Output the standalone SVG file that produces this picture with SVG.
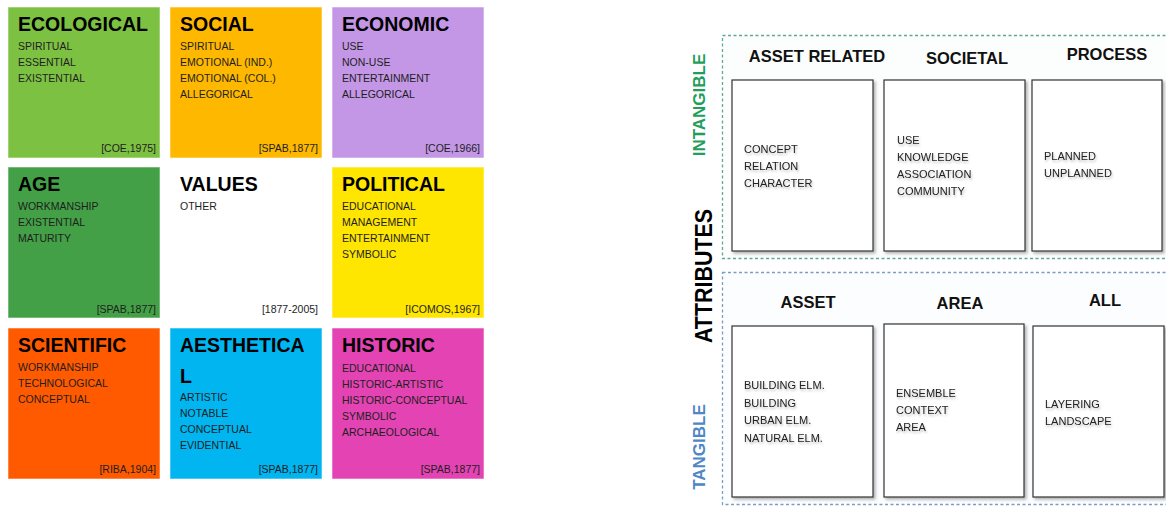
<svg xmlns="http://www.w3.org/2000/svg" width="1166" height="507" viewBox="0 0 1166 507">
  <defs>
    <filter id="boxShadow" x="-10%" y="-10%" width="130%" height="130%">
      <feDropShadow dx="2" dy="2" stdDeviation="1.6" flood-color="#000" flood-opacity="0.3"/>
    </filter>
    <filter id="textShadow" x="-10%" y="-30%" width="130%" height="190%">
      <feDropShadow dx="1" dy="2" stdDeviation="1.2" flood-color="#000" flood-opacity="0.25"/>
    </filter>
  </defs>
  <style>
    text { font-family: "Liberation Sans", Arial, sans-serif; }
    .tile { stroke: rgba(255,255,255,0.55); stroke-width: 1; }
    .ttl { font-size: 19.5px; font-weight: bold; fill: #000; }
    .itm { font-size: 10.5px; fill: #1e1e1e; }
    .ref { font-size: 10.5px; fill: #1e1e1e; text-anchor: end; }
    .zone-int { fill: #fcfefd; stroke: #5fa898; stroke-width: 1.3; stroke-dasharray: 3 2.5; }
    .zone-tan { fill: #fcfdfe; stroke: #7d9cc2; stroke-width: 1.3; stroke-dasharray: 3 2.5; }
    .box { fill: #fff; stroke: #333; stroke-width: 1.2; filter: url(#boxShadow); }
    .hdr { font-size: 16.5px; font-weight: bold; fill: #111; text-anchor: middle; }
    .cnt { font-size: 11px; fill: #222; filter: url(#textShadow); }
    .side { font-size: 17px; font-weight: bold; text-anchor: middle; }
  </style>

  <rect width="1166" height="507" fill="#fff"/>

  <!-- Value categories grid -->
  <g id="ecological" transform="translate(8,7)">
    <rect class="tile" width="152" height="151" fill="#7dc143"/>
    <text class="ttl" x="10" y="24">ECOLOGICAL</text>
    <text class="itm" x="10" y="43">SPIRITUAL</text>
    <text class="itm" x="10" y="59">ESSENTIAL</text>
    <text class="itm" x="10" y="75">EXISTENTIAL</text>
    <text class="ref" x="148" y="145">[COE,1975]</text>
  </g>
  <g id="social" transform="translate(170,7)">
    <rect class="tile" width="152" height="151" fill="#ffb800"/>
    <text class="ttl" x="10" y="24">SOCIAL</text>
    <text class="itm" x="10" y="43">SPIRITUAL</text>
    <text class="itm" x="10" y="59">EMOTIONAL (IND.)</text>
    <text class="itm" x="10" y="75">EMOTIONAL (COL.)</text>
    <text class="itm" x="10" y="91">ALLEGORICAL</text>
    <text class="ref" x="148" y="145">[SPAB,1877]</text>
  </g>
  <g id="economic" transform="translate(332,7)">
    <rect class="tile" width="152" height="151" fill="#c497e6"/>
    <text class="ttl" x="10" y="24">ECONOMIC</text>
    <text class="itm" x="10" y="43">USE</text>
    <text class="itm" x="10" y="59">NON-USE</text>
    <text class="itm" x="10" y="75">ENTERTAINMENT</text>
    <text class="itm" x="10" y="91">ALLEGORICAL</text>
    <text class="ref" x="148" y="145">[COE,1966]</text>
  </g>
  <g id="age" transform="translate(8,167)">
    <rect class="tile" width="152" height="151" fill="#43a047"/>
    <text class="ttl" x="10" y="24">AGE</text>
    <text class="itm" x="10" y="43">WORKMANSHIP</text>
    <text class="itm" x="10" y="59">EXISTENTIAL</text>
    <text class="itm" x="10" y="75">MATURITY</text>
    <text class="ref" x="148" y="146">[SPAB,1877]</text>
  </g>
  <g id="values" transform="translate(170,167)">
    <rect width="152" height="151" fill="#fff"/>
    <text class="ttl" x="10" y="24">VALUES</text>
    <text class="itm" x="10" y="43">OTHER</text>
    <text class="ref" x="148" y="146">[1877-2005]</text>
  </g>
  <g id="political" transform="translate(332,167)">
    <rect class="tile" width="152" height="151" fill="#ffe600"/>
    <text class="ttl" x="10" y="24">POLITICAL</text>
    <text class="itm" x="10" y="43">EDUCATIONAL</text>
    <text class="itm" x="10" y="59">MANAGEMENT</text>
    <text class="itm" x="10" y="75">ENTERTAINMENT</text>
    <text class="itm" x="10" y="91">SYMBOLIC</text>
    <text class="ref" x="148" y="146">[ICOMOS,1967]</text>
  </g>
  <g id="scientific" transform="translate(8,328)">
    <rect class="tile" width="152" height="151" fill="#ff5a00"/>
    <text class="ttl" x="10" y="24">SCIENTIFIC</text>
    <text class="itm" x="10" y="43">WORKMANSHIP</text>
    <text class="itm" x="10" y="59">TECHNOLOGICAL</text>
    <text class="itm" x="10" y="75">CONCEPTUAL</text>
    <text class="ref" x="148" y="145">[RIBA,1904]</text>
  </g>
  <g id="aesthetical" transform="translate(170,328)">
    <rect class="tile" width="152" height="151" fill="#00b5f0"/>
    <text class="ttl" x="10" y="24">AESTHETICA</text>
    <text class="ttl" x="10" y="55">L</text>
    <text class="itm" x="10" y="73">ARTISTIC</text>
    <text class="itm" x="10" y="89">NOTABLE</text>
    <text class="itm" x="10" y="105">CONCEPTUAL</text>
    <text class="itm" x="10" y="121">EVIDENTIAL</text>
    <text class="ref" x="148" y="145">[SPAB,1877]</text>
  </g>
  <g id="historic" transform="translate(332,328)">
    <rect class="tile" width="152" height="151" fill="#e444b3"/>
    <text class="ttl" x="10" y="24">HISTORIC</text>
    <text class="itm" x="10" y="44">EDUCATIONAL</text>
    <text class="itm" x="10" y="60">HISTORIC-ARTISTIC</text>
    <text class="itm" x="10" y="76">HISTORIC-CONCEPTUAL</text>
    <text class="itm" x="10" y="92">SYMBOLIC</text>
    <text class="itm" x="10" y="108">ARCHAEOLOGICAL</text>
    <text class="ref" x="148" y="145">[SPAB,1877]</text>
  </g>

  <!-- Attributes panel: side labels -->
  <g id="side-labels">
    <text class="side" transform="translate(705,105) rotate(-90)" fill="#1f9e5c">INTANGIBLE</text>
    <text class="side" transform="translate(712,276) rotate(-90)" fill="#000" style="font-size:24px" textLength="134" lengthAdjust="spacingAndGlyphs">ATTRIBUTES</text>
    <text class="side" transform="translate(705,447) rotate(-90)" fill="#4f86c6">TANGIBLE</text>
  </g>

  <!-- Intangible attributes -->
  <g id="intangible">
    <rect class="zone-int" x="722.5" y="35.5" width="470" height="223"/>
    <g id="asset-related">
      <text class="hdr" x="817" y="62">ASSET RELATED</text>
      <rect class="box" x="732" y="80" width="141" height="171"/>
      <text class="cnt" x="744" y="153">CONCEPT</text>
      <text class="cnt" x="744" y="170">RELATION</text>
      <text class="cnt" x="744" y="187">CHARACTER</text>
    </g>
    <g id="societal">
      <text class="hdr" x="967" y="64">SOCIETAL</text>
      <rect class="box" x="884" y="80" width="141" height="171"/>
      <text class="cnt" x="897" y="144">USE</text>
      <text class="cnt" x="897" y="161">KNOWLEDGE</text>
      <text class="cnt" x="897" y="178">ASSOCIATION</text>
      <text class="cnt" x="897" y="195">COMMUNITY</text>
    </g>
    <g id="process">
      <text class="hdr" x="1107" y="60">PROCESS</text>
      <rect class="box" x="1032" y="80" width="130" height="171"/>
      <text class="cnt" x="1044" y="160">PLANNED</text>
      <text class="cnt" x="1044" y="177">UNPLANNED</text>
    </g>
  </g>

  <!-- Tangible attributes -->
  <g id="tangible">
    <rect class="zone-tan" x="722.5" y="272.5" width="470" height="232"/>
    <g id="asset">
      <text class="hdr" x="808" y="308">ASSET</text>
      <rect class="box" x="732" y="326" width="141" height="171"/>
      <text class="cnt" x="744" y="389">BUILDING ELM.</text>
      <text class="cnt" x="744" y="407">BUILDING</text>
      <text class="cnt" x="744" y="424">URBAN ELM.</text>
      <text class="cnt" x="744" y="442">NATURAL ELM.</text>
    </g>
    <g id="area">
      <text class="hdr" x="960" y="309">AREA</text>
      <rect class="box" x="884" y="324" width="140" height="173"/>
      <text class="cnt" x="896" y="397">ENSEMBLE</text>
      <text class="cnt" x="896" y="414">CONTEXT</text>
      <text class="cnt" x="896" y="431">AREA</text>
    </g>
    <g id="all">
      <text class="hdr" x="1105" y="306">ALL</text>
      <rect class="box" x="1033" y="326" width="131" height="171"/>
      <text class="cnt" x="1045" y="408">LAYERING</text>
      <text class="cnt" x="1045" y="425">LANDSCAPE</text>
    </g>
  </g>

  <!-- no connectors in this figure -->
  <g id="connectors"/>
</svg>
